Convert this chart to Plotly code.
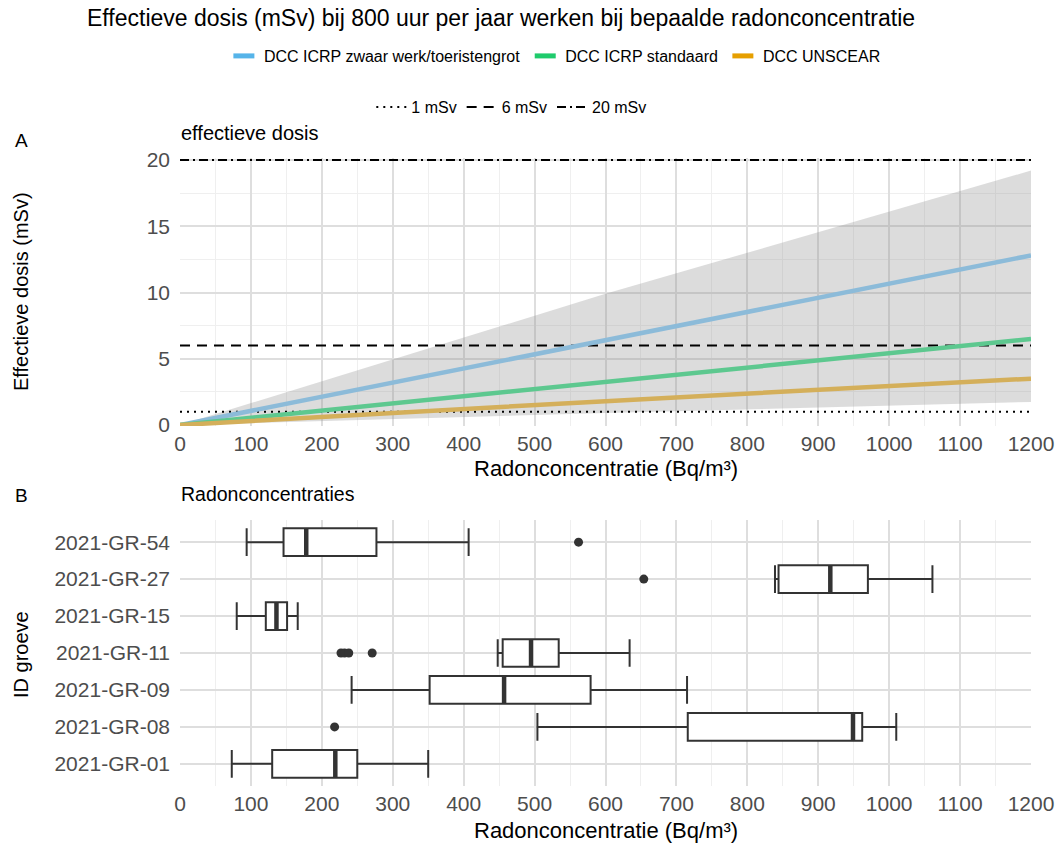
import plotly.graph_objects as go

# ---- Panel A: effective dose vs radon concentration ----
conc = [0, 600, 1200]
dose_icrp_heavy = [0, 6.4, 12.8]
dose_icrp_std = [0, 3.25, 6.5]
dose_unscear = [0, 1.8, 3.5]
band_x = [0, 600, 1200]
band_low = [0, 0.9, 1.74]
band_high = [0, 9.9, 19.2]

ref_levels = [1, 6, 20]
ref_names = ["1 mSv", "6 mSv", "20 mSv"]
ref_dash = ["2px,5px", "10px,7px", "9px,4px,2px,4px"]

series_names = ["DCC ICRP zwaar werk/toeristengrot", "DCC ICRP standaard", "DCC UNSCEAR"]
series_line_colors = ["#8cbbd9", "#5dc88f", "#d4af5a"]
series_key_colors = ["#56b4e9", "#1fcb6c", "#e69f00"]

# ---- Panel B: radon concentrations per cave (box statistics) ----
caves = ["2021-GR-01", "2021-GR-08", "2021-GR-09", "2021-GR-11", "2021-GR-15", "2021-GR-27", "2021-GR-54"]
q_low = [73, 504, 242, 448, 80, 839, 94]
q1 = [130, 716, 352, 455, 121, 844, 146]
q_med = [219, 949, 457, 495, 136, 917, 178]
q3 = [250, 962, 579, 534, 151, 970, 277]
q_high = [350, 1010, 715, 634, 166, 1061, 407]
outlier_cave = ["2021-GR-08", "2021-GR-11", "2021-GR-11", "2021-GR-11", "2021-GR-11", "2021-GR-27", "2021-GR-54"]
outlier_value = [218, 227, 232, 238, 271, 654, 562]

x_ticks = list(range(0, 1201, 100))

W, H = 1063, 846
FONT = "Liberation Sans, Arial, sans-serif"
GRID = "#dedede"
MINOR = "#efefef"
BOX_LINE = "#333333"


def px_x(p):
    return p / W


def px_y(p):
    return 1 - p / H


fig = go.Figure()

# uncertainty band
fig.add_trace(go.Scatter(x=band_x, y=band_low, mode="lines", line=dict(width=0),
                         showlegend=False, hoverinfo="skip", xaxis="x", yaxis="y"))
fig.add_trace(go.Scatter(x=band_x, y=band_high, mode="lines", line=dict(width=0),
                         fill="tonexty", fillcolor="rgba(140,140,140,0.3)",
                         showlegend=False, hoverinfo="skip", xaxis="x", yaxis="y"))

# reference dose levels
for lvl, nm, dsh in zip(ref_levels, ref_names, ref_dash):
    fig.add_trace(go.Scatter(x=[0, 1200], y=[lvl, lvl], mode="lines", name=nm,
                             line=dict(color="black", width=2, dash=dsh),
                             legend="legend2", xaxis="x", yaxis="y"))

# dose lines
for ys, nm, col in zip([dose_icrp_heavy, dose_icrp_std, dose_unscear], series_names, series_line_colors):
    fig.add_trace(go.Scatter(x=conc, y=ys, mode="lines", name=nm,
                             line=dict(color=col, width=4.5), showlegend=False,
                             xaxis="x", yaxis="y"))

# legend keys for the dose lines
for nm, col in zip(series_names, series_key_colors):
    fig.add_trace(go.Scatter(x=[None], y=[None], mode="markers", name=nm,
                             marker=dict(symbol="line-ew", size=15,
                                         line=dict(color=col, width=5)),
                             legend="legend", xaxis="x", yaxis="y"))

# box plots
pos = {c: i + 1 for i, c in enumerate(caves)}
positions = [pos[c] for c in caves]
fig.add_trace(go.Box(y=positions, q1=q1, median=q_med, q3=q3,
                     lowerfence=q_low, upperfence=q_high, orientation="h",
                     width=0.75, whiskerwidth=1, boxpoints=False,
                     fillcolor="white", line=dict(color=BOX_LINE, width=2),
                     showlegend=False, xaxis="x2", yaxis="y2"))

# thick median bars
mx, my = [], []
for p, m in zip(positions, q_med):
    mx += [m, m, None]
    my += [p - 0.375, p + 0.375, None]
fig.add_trace(go.Scatter(x=mx, y=my, mode="lines", line=dict(color=BOX_LINE, width=4.5),
                         showlegend=False, hoverinfo="skip", xaxis="x2", yaxis="y2"))

# outliers
fig.add_trace(go.Scatter(x=outlier_value, y=[pos[c] for c in outlier_cave], mode="markers",
                         marker=dict(color=BOX_LINE, size=9), showlegend=False,
                         xaxis="x2", yaxis="y2"))

x_dom = [px_x(180), px_x(1031)]
tick_font = dict(family=FONT, size=21, color="#4d4d4d")

common_x = dict(range=[0, 1200], tickvals=x_ticks, showgrid=True, gridcolor=GRID, gridwidth=2,
                minor=dict(dtick=50, tick0=0, showgrid=True, gridcolor=MINOR, gridwidth=1),
                zeroline=False, showline=False, ticks="", tickfont=tick_font, domain=x_dom,
                automargin=False, ticklabelstandoff=3)

fig.update_layout(
    width=W, height=H,
    margin=dict(l=0, r=0, t=0, b=0),
    paper_bgcolor="white", plot_bgcolor="white",
    font=dict(family=FONT, color="black"),
    xaxis=dict(anchor="y", **common_x),
    yaxis=dict(anchor="x", domain=[px_y(426), px_y(158)], range=[-0.075, 20.15],
               tickvals=[0, 5, 10, 15, 20], showgrid=True, gridcolor=GRID, gridwidth=2,
               minor=dict(dtick=2.5, tick0=0, showgrid=True, gridcolor=MINOR, gridwidth=1),
               zeroline=False, showline=False, ticks="", tickfont=tick_font,
               automargin=False, ticklabelstandoff=9),
    xaxis2=dict(anchor="y2", **common_x),
    yaxis2=dict(anchor="x2", domain=[px_y(786), px_y(520)], range=[0.4, 7.6],
                tickvals=positions, ticktext=caves, showgrid=True, gridcolor=GRID, gridwidth=2,
                zeroline=False, showline=False, ticks="", tickfont=tick_font,
                automargin=False, ticklabelstandoff=9),
    legend=dict(orientation="h", x=0.522, xanchor="center", y=px_y(56), yanchor="middle",
                traceorder="normal",
                font=dict(family=FONT, size=16, color="black"), bgcolor="rgba(0,0,0,0)"),
    legend2=dict(orientation="h", x=0.481, xanchor="center", y=px_y(107), yanchor="middle",
                 traceorder="normal",
                 font=dict(family=FONT, size=16, color="black"), bgcolor="rgba(0,0,0,0)"),
)

ann = dict(xref="paper", yref="paper", showarrow=False)
fig.add_annotation(text="Effectieve dosis (mSv) bij 800 uur per jaar werken bij bepaalde radonconcentratie",
                   x=px_x(85), y=px_y(18), xanchor="left", yanchor="middle",
                   font=dict(family=FONT, size=23, color="black"), **ann)
fig.add_annotation(text="A", x=px_x(21), y=px_y(141), xanchor="center", yanchor="middle",
                   font=dict(family=FONT, size=19, color="black"), **ann)
fig.add_annotation(text="B", x=px_x(21), y=px_y(496), xanchor="center", yanchor="middle",
                   font=dict(family=FONT, size=19, color="black"), **ann)
fig.add_annotation(text="effectieve dosis", x=px_x(179), y=px_y(133), xanchor="left", yanchor="middle",
                   font=dict(family=FONT, size=20, color="black"), **ann)
fig.add_annotation(text="Radonconcentraties", x=px_x(179), y=px_y(494), xanchor="left", yanchor="middle",
                   font=dict(family=FONT, size=19.5, color="black"), **ann)
fig.add_annotation(text="Radonconcentratie (Bq/m³)", x=px_x(606), y=px_y(468), xanchor="center",
                   yanchor="middle", font=dict(family=FONT, size=22, color="black"), **ann)
fig.add_annotation(text="Radonconcentratie (Bq/m³)", x=px_x(606), y=px_y(830), xanchor="center",
                   yanchor="middle", font=dict(family=FONT, size=22, color="black"), **ann)
fig.add_annotation(text="Effectieve dosis (mSv)", x=px_x(21), y=px_y(292), xanchor="center",
                   yanchor="middle", textangle=-90,
                   font=dict(family=FONT, size=20, color="black"), **ann)
fig.add_annotation(text="ID groeve", x=px_x(21), y=px_y(655), xanchor="center",
                   yanchor="middle", textangle=-90,
                   font=dict(family=FONT, size=20, color="black"), **ann)

fig.write_html("out.html")
